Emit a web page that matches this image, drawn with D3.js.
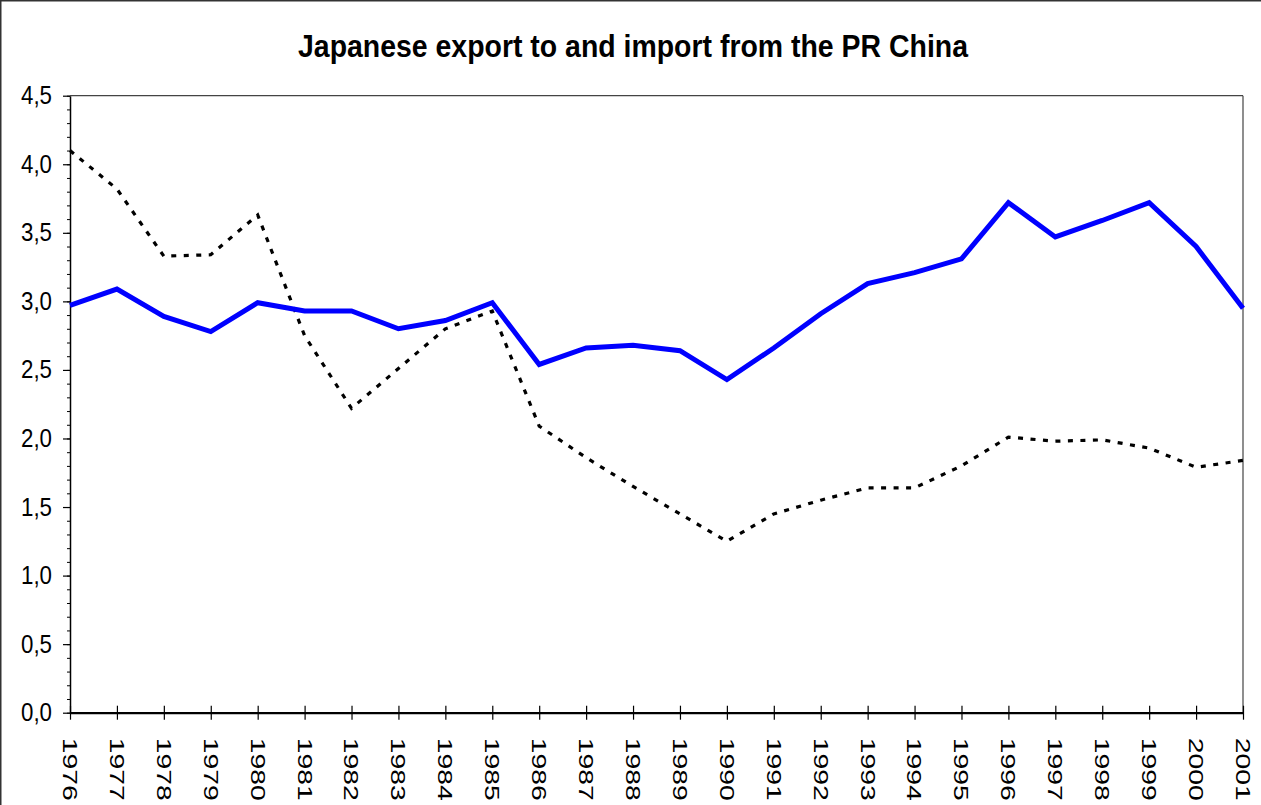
<!DOCTYPE html>
<html>
<head>
<meta charset="utf-8">
<script src="https://cdn.jsdelivr.net/npm/d3@7"></script>
<style>
  html, body { margin: 0; padding: 0; background: #fff; }
  svg { display: block; }
  text { font-family: "Liberation Sans", Arial, sans-serif; fill: #000; }
</style>
</head>
<body>
<svg id="chart" width="1261" height="805"></svg>
<script>
// Years on the category axis
const years = [1976, 1977, 1978, 1979, 1980, 1981, 1982, 1983, 1984, 1985, 1986, 1987, 1988,
               1989, 1990, 1991, 1992, 1993, 1994, 1995, 1996, 1997, 1998, 1999, 2000, 2001];

// Export to China (solid blue line)
const exportValues = [2.97, 3.09, 2.89, 2.78, 2.99, 2.93, 2.93, 2.80, 2.86, 2.99, 2.54, 2.66, 2.68,
                      2.64, 2.43, 2.66, 2.91, 3.13, 3.21, 3.31, 3.72, 3.47, 3.59, 3.72, 3.40, 2.95];

// Import from China (dotted black line)
const importValues = [4.10, 3.82, 3.33, 3.34, 3.63, 2.75, 2.22, 2.51, 2.80, 2.93, 2.09, 1.86, 1.65,
                      1.45, 1.25, 1.45, 1.55, 1.64, 1.64, 1.80, 2.01, 1.98, 1.99, 1.93, 1.79, 1.84];

// Value axis ticks
const yMajorTicks = [0, 0.5, 1, 1.5, 2, 2.5, 3, 3.5, 4, 4.5];
const yMinorTicks = d3.range(0, 46).map(i => i / 10);

const titleText = "Japanese export to and import from the PR China";

const svg = d3.select("#chart");

// Outer chart frame
svg.append("rect")
  .attr("x", 0.75).attr("y", 0.75)
  .attr("width", 1300).attr("height", 900)
  .attr("fill", "none").attr("stroke", "#333").attr("stroke-width", 1.5);

const plotLeft = 70, plotRight = 1243, plotTop = 95.7, plotBottom = 712.7;

const x = d3.scalePoint().domain(years).range([plotLeft, plotRight]);
const y = d3.scaleLinear().domain([0, 4.5]).range([plotBottom, plotTop]);

const locale = d3.formatLocale({ decimal: ",", thousands: ".", grouping: [3], currency: ["", ""] });
const fmt = locale.format(".1f");

// Plot area border (top and right)
svg.append("line").attr("x1", plotLeft).attr("x2", plotRight).attr("y1", plotTop).attr("y2", plotTop)
  .attr("stroke", "#444").attr("stroke-width", 1.2);
svg.append("line").attr("x1", plotRight).attr("x2", plotRight).attr("y1", plotTop).attr("y2", plotBottom)
  .attr("stroke", "#444").attr("stroke-width", 1.2);

// Minor ticks on the value axis
svg.append("g")
  .attr("transform", `translate(${plotLeft},0)`)
  .call(d3.axisLeft(y).tickValues(yMinorTicks).tickSize(3).tickFormat(""))
  .call(g => g.select(".domain").remove())
  .call(g => g.selectAll(".tick line").attr("stroke", "#000").attr("stroke-width", 1));

// Value axis with major ticks and labels
svg.append("g")
  .attr("transform", `translate(${plotLeft},0)`)
  .call(d3.axisLeft(y).tickValues(yMajorTicks).tickSize(7).tickSizeOuter(0).tickPadding(11).tickFormat(fmt))
  .call(g => g.select(".domain").attr("stroke", "#000").attr("stroke-width", 1.5))
  .call(g => g.selectAll(".tick line").attr("stroke", "#000").attr("stroke-width", 1.2))
  .call(g => g.selectAll(".tick text")
    .style("font-size", "25px")
    .attr("textLength", 31).attr("lengthAdjust", "spacingAndGlyphs"));

// Category axis with crossing ticks and vertical year labels
svg.append("g")
  .attr("transform", `translate(0,${plotBottom})`)
  .call(d3.axisBottom(x).tickSize(7).tickSizeOuter(0))
  .call(g => g.select(".domain").attr("stroke", "#000").attr("stroke-width", 2.2))
  .call(g => g.selectAll(".tick line").attr("y1", -7).attr("y2", 7)
    .attr("stroke", "#000").attr("stroke-width", 1.2))
  .call(g => g.selectAll(".tick text")
    .attr("transform", "rotate(90)")
    .attr("x", 25).attr("y", 0).attr("dy", "0.36em")
    .attr("text-anchor", "start")
    .style("font-size", "21px")
    .attr("textLength", 63).attr("lengthAdjust", "spacingAndGlyphs"));

const line = d3.line().x((d, i) => x(years[i])).y(d => y(d));

// Import series
svg.append("path")
  .datum(importValues)
  .attr("d", line)
  .attr("fill", "none")
  .attr("stroke", "#000")
  .attr("stroke-width", 3.2)
  .attr("stroke-dasharray", "5,7.5");

// Export series
svg.append("path")
  .datum(exportValues)
  .attr("d", line)
  .attr("fill", "none")
  .attr("stroke", "#0000ff")
  .attr("stroke-width", 5)
  .attr("stroke-linejoin", "miter");

// Title
svg.append("text")
  .attr("x", 633).attr("y", 57)
  .attr("text-anchor", "middle")
  .style("font-size", "31px")
  .style("font-weight", "bold")
  .attr("textLength", 670).attr("lengthAdjust", "spacingAndGlyphs")
  .text(titleText);
</script>
</body>
</html>
